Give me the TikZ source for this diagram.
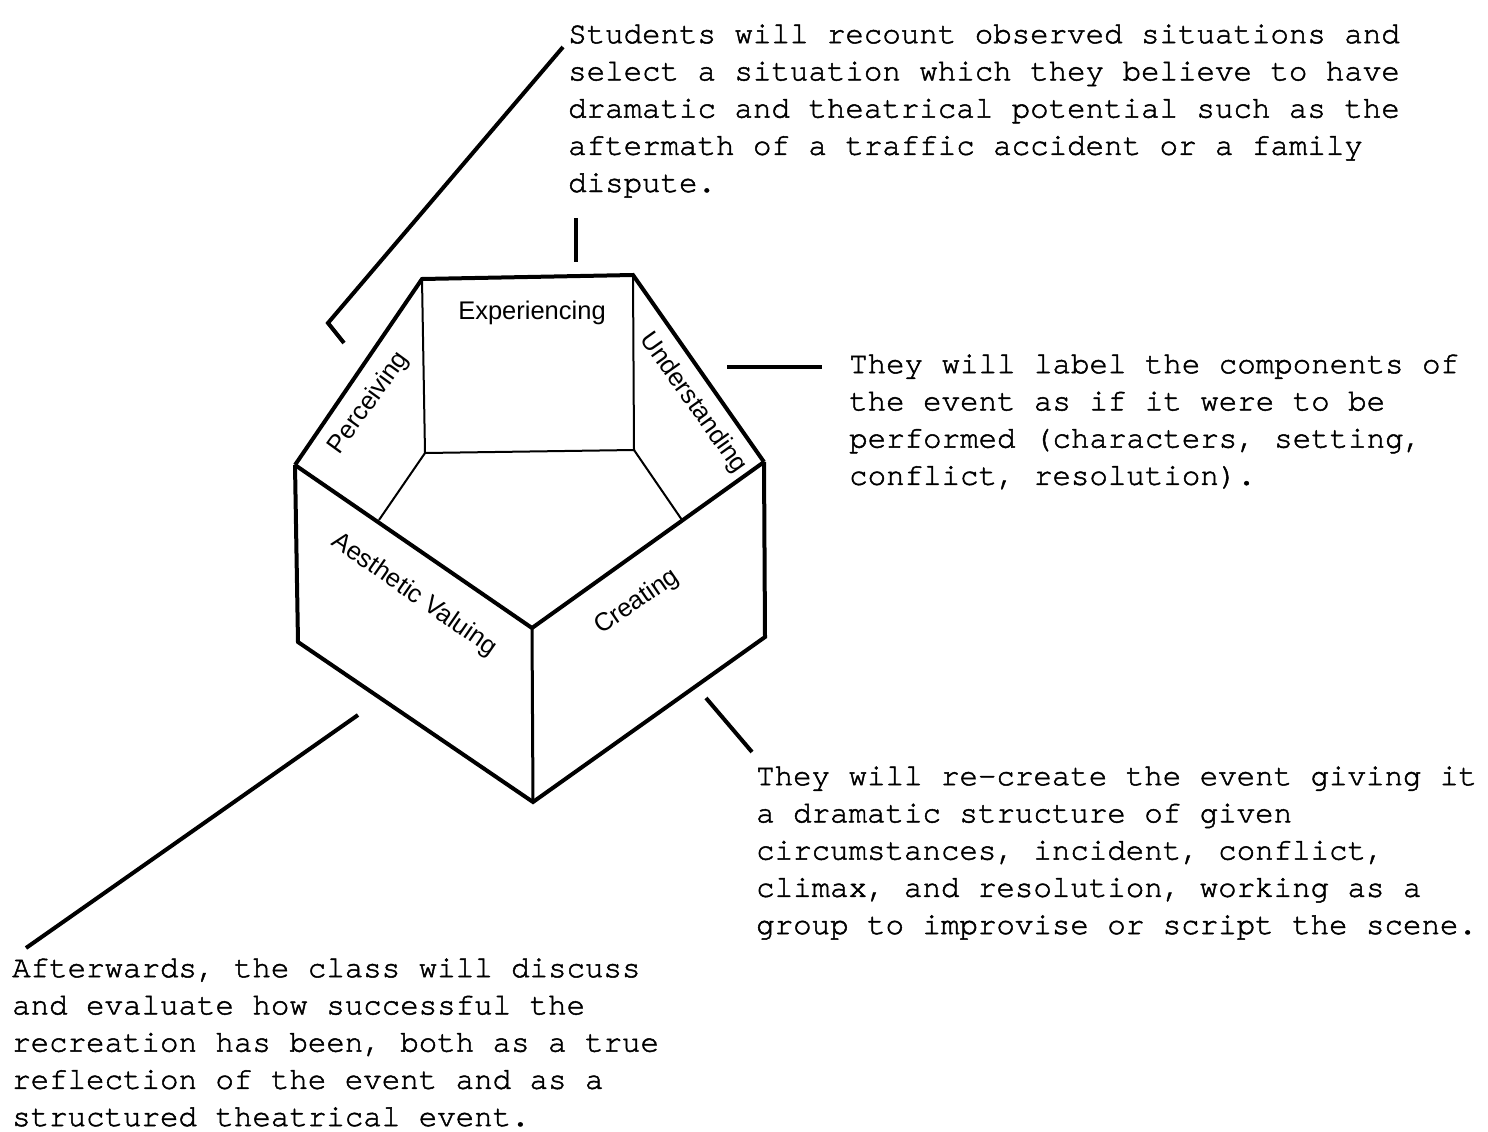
\documentclass[tikz,border=0pt]{standalone}
\usepackage{fontspec}
\setmainfont{Liberation Sans}
\newfontfamily\monofam[FakeBold=1.6,Ligatures=NoCommon]{texgyrecursor-regular.otf}
\begin{document}
\begin{tikzpicture}[x=1pt,y=-1pt,
  edge/.style={line width=4pt, line join=miter},
  inner/.style={line width=2pt},
  conn/.style={line width=4pt},
  lab/.style={font=\fontsize{25.5}{30}\selectfont, inner sep=0pt},
  desc/.style={font=\fontsize{30.8}{37.2}\selectfont\monofam, align=left, anchor=north west, inner sep=0pt}]
\path[use as bounding box] (0,0) rectangle (1488,1132);
% vertices
\coordinate (TL) at (422,279);
\coordinate (TR) at (633,275);
\coordinate (L) at (295,465);
\coordinate (R) at (764,462);
\coordinate (F) at (532,628);
\coordinate (BL) at (298,642);
\coordinate (BR) at (765,637);
\coordinate (B) at (533,802);
\coordinate (IL) at (425,453);
\coordinate (IR) at (634,450);
\coordinate (PL) at (379,520);
\coordinate (PR) at (682,520);
% inner lines
\draw[inner] (TL) -- (IL) -- (IR) -- (TR);
\draw[inner] (IL) -- (PL);
\draw[inner] (IR) -- (PR);
% outer lines
\draw[edge] (L) -- (TL) -- (TR) -- (R);
\draw[edge] (L) -- (F) -- (R);
\draw[edge] (L) -- (BL) -- (B) -- (BR) -- (R);
\draw[line width=3pt] (F) -- (B);
% face labels
\node[lab, rotate=54] (perc) at (369,403) {Perceiving};
\node[lab] (exper) at (532,313) {Experiencing};
\node[lab, rotate=-54.5] (under) at (693,403) {Understanding};
\node[lab, rotate=-34.8] (aesth) at (414,595) {Aesthetic Valuing};
\node[lab, rotate=34.6] (creat) at (637,602) {Creating};
% descriptions
\node[desc] (tTop) at (568,17) {\rule{0pt}{26pt}Students will recount observed situations and\\
select a situation which they believe to have\\
dramatic and theatrical potential such as the\\
aftermath of a traffic accident or a family\\
dispute.};
\node[desc] (tRight) at (849,347) {\rule{0pt}{26pt}They will label the components of\\
the event as if it were to be\\
performed (characters, setting,\\
conflict, resolution).};
\node[desc] (tLowRight) at (756,759) {\rule{0pt}{26pt}They will re-create the event giving it\\
a dramatic structure of given\\
circumstances, incident, conflict,\\
climax, and resolution, working as a\\
group to improvise or script the scene.};
\node[desc] (tBottom) at (12,951) {\rule{0pt}{26pt}Afterwards, the class will discuss\\
and evaluate how successful the\\
recreation has been, both as a true\\
reflection of the event and as a\\
structured theatrical event.};
% connectors
\coordinate (c1a) at (563,47);
\coordinate (c1b) at (328,323);
\coordinate (c1c) at (344,343);
\draw[conn] (c1a) -- (c1b) -- (c1c);
\coordinate (c2a) at (576,218);
\coordinate (c2b) at (576,262);
\draw[conn] (c2a) -- (c2b);
\coordinate (c3a) at (727,367);
\coordinate (c3b) at (822,367);
\draw[conn] (c3a) -- (c3b);
\coordinate (c4a) at (706,698);
\coordinate (c4b) at (752,752);
\draw[conn] (c4a) -- (c4b);
\coordinate (c5a) at (358,715);
\coordinate (c5b) at (26,948);
\draw[conn] (c5a) -- (c5b);
\end{tikzpicture}
\end{document}
